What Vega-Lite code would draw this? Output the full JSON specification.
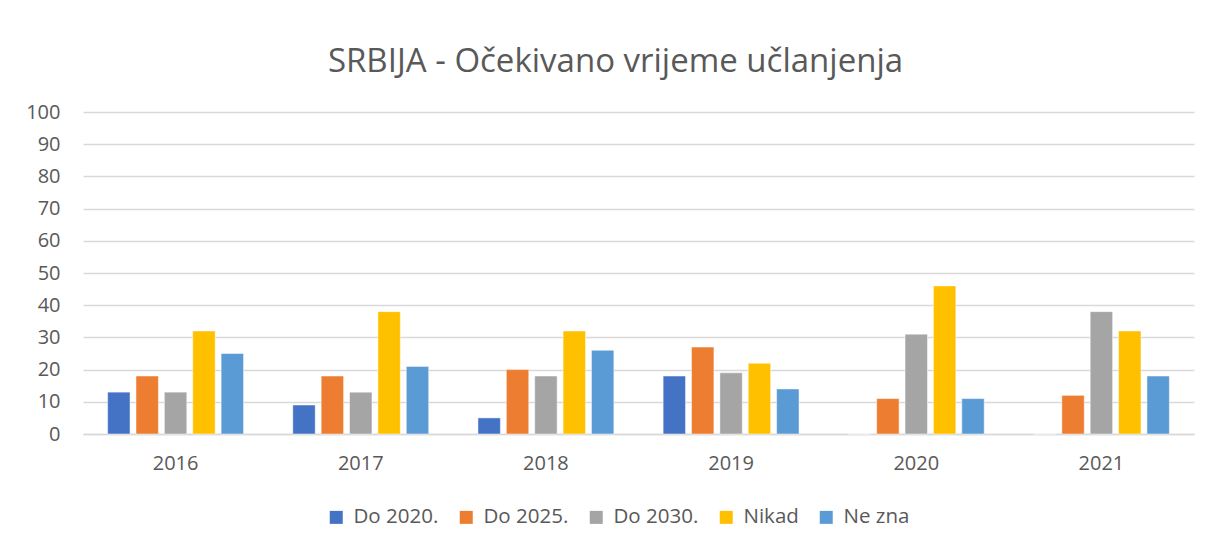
{
  "$schema": "https://vega.github.io/schema/vega-lite/v6.json",
  "width": 1111,
  "height": 322,
  "autosize": {"type": "none"},
  "padding": {"left": 83, "top": 112, "right": 15, "bottom": 113},
  "background": "white",
  "title": {
    "text": "SRBIJA - Očekivano vrijeme učlanjenja",
    "font": "Open Sans",
    "fontSize": 33,
    "fontWeight": "normal",
    "color": "#595959",
    "anchor": "middle",
    "frame": "group",
    "dx": -23,
    "offset": 23
  },
  "data": {
    "values": [
      {"year": "2016", "series": "Do 2020.", "value": 13},
      {"year": "2016", "series": "Do 2025.", "value": 18},
      {"year": "2016", "series": "Do 2030.", "value": 13},
      {"year": "2016", "series": "Nikad", "value": 32},
      {"year": "2016", "series": "Ne zna", "value": 25},
      {"year": "2017", "series": "Do 2020.", "value": 9},
      {"year": "2017", "series": "Do 2025.", "value": 18},
      {"year": "2017", "series": "Do 2030.", "value": 13},
      {"year": "2017", "series": "Nikad", "value": 38},
      {"year": "2017", "series": "Ne zna", "value": 21},
      {"year": "2018", "series": "Do 2020.", "value": 5},
      {"year": "2018", "series": "Do 2025.", "value": 20},
      {"year": "2018", "series": "Do 2030.", "value": 18},
      {"year": "2018", "series": "Nikad", "value": 32},
      {"year": "2018", "series": "Ne zna", "value": 26},
      {"year": "2019", "series": "Do 2020.", "value": 18},
      {"year": "2019", "series": "Do 2025.", "value": 27},
      {"year": "2019", "series": "Do 2030.", "value": 19},
      {"year": "2019", "series": "Nikad", "value": 22},
      {"year": "2019", "series": "Ne zna", "value": 14},
      {"year": "2020", "series": "Do 2020.", "value": 0},
      {"year": "2020", "series": "Do 2025.", "value": 11},
      {"year": "2020", "series": "Do 2030.", "value": 31},
      {"year": "2020", "series": "Nikad", "value": 46},
      {"year": "2020", "series": "Ne zna", "value": 11},
      {"year": "2021", "series": "Do 2020.", "value": 0},
      {"year": "2021", "series": "Do 2025.", "value": 12},
      {"year": "2021", "series": "Do 2030.", "value": 38},
      {"year": "2021", "series": "Nikad", "value": 32},
      {"year": "2021", "series": "Ne zna", "value": 18}
    ]
  },
  "mark": {"type": "bar", "stroke": "white", "strokeWidth": 0.8, "strokeOpacity": 0.6},
  "encoding": {
    "x": {
      "field": "year",
      "type": "nominal",
      "scale": {"paddingInner": 0.266, "paddingOuter": 0.133},
      "axis": {
        "title": null,
        "labelAngle": 0,
        "labelFont": "Open Sans",
        "labelFontSize": 20,
        "labelColor": "#595959",
        "labelPadding": 19,
        "ticks": false,
        "domainColor": "#D9D9D9",
        "domainWidth": 1.5,
        "grid": false
      }
    },
    "xOffset": {
      "field": "series",
      "type": "nominal",
      "sort": ["Do 2020.", "Do 2025.", "Do 2030.", "Nikad", "Ne zna"],
      "scale": {"paddingInner": 0.21, "paddingOuter": 0}
    },
    "y": {
      "field": "value",
      "type": "quantitative",
      "scale": {"domain": [0, 100]},
      "axis": {
        "title": null,
        "values": [0, 10, 20, 30, 40, 50, 60, 70, 80, 90, 100],
        "labelFont": "Open Sans",
        "labelFontSize": 20,
        "labelColor": "#595959",
        "labelPadding": 23,
        "ticks": false,
        "domain": false,
        "gridColor": "#D9D9D9",
        "gridWidth": 1.5
      }
    },
    "color": {
      "field": "series",
      "type": "nominal",
      "sort": ["Do 2020.", "Do 2025.", "Do 2030.", "Nikad", "Ne zna"],
      "scale": {
        "domain": ["Do 2020.", "Do 2025.", "Do 2030.", "Nikad", "Ne zna"],
        "range": ["#4472C4", "#ED7D31", "#A5A5A5", "#FFC000", "#5B9BD5"]
      },
      "legend": {
        "title": null,
        "orient": "none",
        "direction": "horizontal",
        "legendX": 243,
        "legendY": 395,
        "symbolType": "square",
        "symbolSize": 169,
        "symbolStrokeWidth": 0,
        "labelFont": "Open Sans",
        "labelFontSize": 20.5,
        "labelColor": "#595959",
        "labelOffset": 7,
        "columnPadding": 17
      }
    }
  },
  "config": {"view": {"stroke": null}}
}
